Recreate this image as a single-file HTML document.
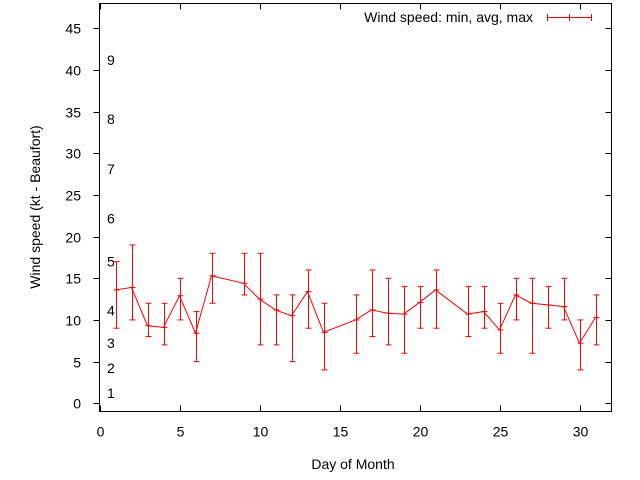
<!DOCTYPE html>
<html><head><meta charset="utf-8"><style>
body{margin:0;background:#fff}
svg{display:block;font-family:"Liberation Sans",Arial,sans-serif}
</style></head><body>
<svg id="chart" width="640" height="480" viewBox="0 0 640 480" xmlns="http://www.w3.org/2000/svg">
<rect width="640" height="480" fill="#fff"/>
<g id="axes"></g>
<g id="beaufort"></g>
<g id="series"></g>
<text x="0" y="0" transform="translate(40,207) rotate(-90)" text-anchor="middle" font-size="14" fill="#000">Wind speed (kt - Beaufort)</text>
<text x="353" y="469" text-anchor="middle" font-size="14" fill="#000">Day of Month</text>
<g>
<text x="533" y="22" text-anchor="end" font-size="14" fill="#000">Wind speed: min, avg, max</text>
<g stroke="#f00" stroke-width="1">
<line x1="547" y1="17.5" x2="592" y2="17.5"/><line x1="547.5" y1="14" x2="547.5" y2="21"/><line x1="569.5" y1="14" x2="569.5" y2="21"/><line x1="591.5" y1="14" x2="591.5" y2="21"/>
</g></g>
</svg>
<script>
const days=[1,2,3,4,5,6,7,9,10,11,12,13,14,16,17,18,19,20,21,23,24,25,26,27,28,29,30,31];
const avgs=[13.6,13.9,9.3,9.1,12.9,8.4,15.3,14.4,12.5,11.2,10.5,13.4,8.5,10,11.2,10.8,10.7,12.1,13.6,10.7,11,8.8,13,12,11.8,11.6,7.2,10.3];
const mins=[9,10,8,7,10,5,12,13,7,7,5,9,4,6,8,7,6,9,9,8,9,6,10,6,9,10,4,7];
const maxs=[17,19,12,12,15,11,18,18,18,13,13,16,12,13,16,15,14,14,16,14,14,12,15,15,14,15,10,13];
const xTicks=[0,5,10,15,20,25,30];
const yTicks=[0,5,10,15,20,25,30,35,40,45];
const bftLabels=["1","2","3","4","5","6","7","8","9"];
const bftSpeeds=[1.2,4.2,7.2,11.1,17.0,22.2,28.1,34.1,41.2];
const X0=99.5,X1=611.5,Y0=3.5,Y1=411.5,xmin=0,xmax=32,ymin=-1,ymax=48;
const sx=v=>X0+(v-xmin)/(xmax-xmin)*(X1-X0);
const sy=v=>Y1-(v-ymin)/(ymax-ymin)*(Y1-Y0);
const NS="http://www.w3.org/2000/svg";
function mk(tag,attrs,parent){const e=document.createElementNS(NS,tag);for(const k in attrs)e.setAttribute(k,attrs[k]);parent.appendChild(e);return e;}
const axes=document.getElementById('axes');
let fr=mk('rect',{x:X0,y:Y0,width:X1-X0,height:Y1-Y0,fill:'none',stroke:'#000','stroke-width':1},axes);


xTicks.forEach(t=>{const x=Math.round(sx(t))+0.5;
 mk('line',{x1:x,y1:Y1,x2:x,y2:Y1-6,stroke:'#000'},axes);
 mk('line',{x1:x,y1:Y0,x2:x,y2:Y0+6,stroke:'#000'},axes);
 const tx=mk('text',{x:x,y:Y1+25,'text-anchor':'middle','font-size':14},axes);
 
 
 tx.textContent=t;});
yTicks.forEach(t=>{const y=Math.round(sy(t))+0.5;
 mk('line',{x1:X0,y1:y,x2:X0-6,y2:y,stroke:'#000'},axes);
 mk('line',{x1:X1,y1:y,x2:X1-6,y2:y,stroke:'#000'},axes);
 const tx=mk('text',{x:81,y:y+5,'text-anchor':'end','font-size':14},axes);
 
 
 tx.textContent=t;});
const bg=document.getElementById('beaufort');
bftLabels.forEach((l,i)=>{const tx=mk('text',{x:107,y:sy(bftSpeeds[i])+5,'font-size':14},bg);
 
 
 tx.textContent=l;});
const sg=document.getElementById('series');
const pl=mk('polyline',{points:days.map((d,i)=>sx(d)+','+sy(avgs[i])).join(' '),fill:'none',stroke:'#f00','stroke-width':1},sg);


days.forEach((d,i)=>{const x=Math.round(sx(d))+0.5,g=mk('g',{stroke:'#f00','stroke-width':1},sg);
 
 
 const a=sy(mins[i]),b=sy(maxs[i]),c=sy(avgs[i]);
 mk('line',{x1:x,y1:a,x2:x,y2:b},g);
 mk('line',{x1:x-3,y1:a,x2:x+3,y2:a},g);
 mk('line',{x1:x-3,y1:b,x2:x+3,y2:b},g);
 mk('line',{x1:x-3,y1:c,x2:x+3,y2:c},g);});
</script>
</body></html>
